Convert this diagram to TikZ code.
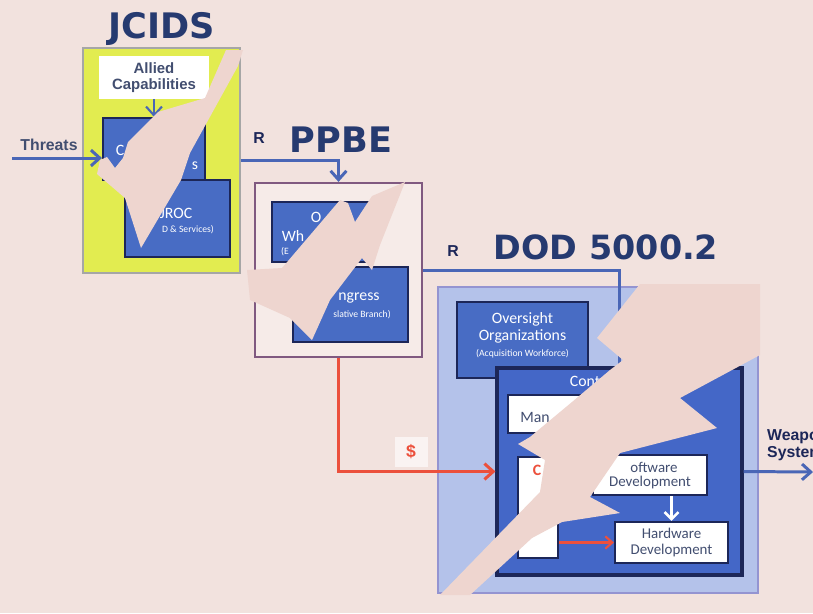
\documentclass[tikz,border=0pt]{standalone}
\usepackage{fontspec}
\setmainfont{Carlito}
\newfontfamily\headfont{DejaVu Sans}
\newfontfamily\lblfont{Liberation Sans}
\usepackage{tikz}
\usetikzlibrary{arrows.meta,positioning,calc}
\definecolor{bgpink}{RGB}{242,226,222}
\definecolor{tearpink}{RGB}{238,213,207}
\definecolor{titlenavy}{RGB}{38,58,112}
\definecolor{boxblue}{RGB}{72,108,196}
\definecolor{framenavy}{RGB}{28,38,88}
\definecolor{lightblue}{RGB}{180,194,234}
\definecolor{jyellow}{RGB}{226,236,80}
\definecolor{arrowblue}{RGB}{74,102,182}
\definecolor{moneyred}{RGB}{236,80,60}
\definecolor{slatetext}{RGB}{66,78,112}
\tikzset{
  titletext/.style={font=\headfont\bfseries\fontsize{20}{22}\selectfont, text=titlenavy},
  smalllabel/.style={font=\lblfont\bfseries\fontsize{9}{10}\selectfont, text=slatetext, align=center},
  yellowbox/.style={rectangle, draw=gray!70, line width=1pt, fill=jyellow,
    inner sep=0pt},
  stagebox/.style={rectangle, draw=gray!70!violet, line width=1.3pt, fill=white!30!bgpink,
    inner sep=0pt},
  dodbox/.style={rectangle, draw=gray!60!blue!60, line width=1.3pt, fill=lightblue,
    inner sep=0pt},
  bluebox/.style={rectangle, draw=framenavy, line width=1.2pt, fill=boxblue,
    inner sep=0pt},
  whitebox/.style={rectangle, draw=framenavy, line width=1.2pt, fill=white,
    inner sep=0pt, align=center, text=slatetext, font=\fontsize{8.5}{9.5}\selectfont},
  boxtext/.style={text=white, font=\fontsize{9}{10}\selectfont, inner sep=0pt},
  tinytext/.style={text=white, font=\fontsize{5.5}{6}\selectfont, inner sep=0pt},
  flowline/.style={arrowblue, line width=1.7pt},
  flowarrow/.style={flowline, -{Straight Barb[length=5pt,width=9pt]}},
  moneyarrow/.style={-{Straight Barb[length=5pt,width=9pt]}, moneyred, line width=1.7pt},
  tearpiece/.style={fill=tearpink, draw=none}
}

\begin{document}
\begin{tikzpicture}[x=0.02cm, y=-0.02cm]
  \useasboundingbox (0,0) rectangle (813,613);
  \fill[bgpink] (0,0) rectangle (813,613);

  % JCIDS
  \node[titletext] (jcidsT) at (162,29) {JCIDS};
  \node[yellowbox, minimum width=3.14cm, minimum height=4.5cm] (jcids) at (161.5,160.5) {};
  \node[fill=white, minimum width=2.2cm, minimum height=0.82cm, smalllabel,
        font=\lblfont\bfseries\fontsize{8.5}{9.5}\selectfont] (allied) at (154,77.5) {Allied\\Capabilities};
  \node[bluebox, minimum width=2.04cm, minimum height=1.24cm] (cocom) at (154,149) {};
  \node[bluebox, minimum width=2.1cm, minimum height=1.54cm] (jroc) at (177.5,218.5) {};
  \node[boxtext] at (120,150) {C};
  \node[boxtext] at (195,166) {s};
  \node[boxtext] at (176,213) {JROC};
  \node[tinytext] at (188,230) {D \& Services)};
  \coordinate (threatsIn) at (12,158);
  \node[smalllabel] at (49,145) {Threats};
  \draw[flowarrow] (threatsIn) -- (threatsIn -| cocom.west);
  \draw[flowarrow, line width=1.2pt] (allied.south) -- (cocom.north);

  % PPBE
  \node[titletext] (ppbeT) at (341,140) {PPBE};
  \node[smalllabel, text=framenavy] at (259,138) {R};
  \node[stagebox, minimum width=3.34cm, minimum height=3.48cm] (ppbe) at (338.5,270) {};
  \node[bluebox, minimum width=1.96cm, minimum height=1.2cm] (omb) at (321,232) {};
  \node[bluebox, minimum width=2.3cm, minimum height=1.5cm] (congress) at (350.5,304.5) {};
  \node[boxtext] at (316,217) {O};
  \node[boxtext] at (293,236) {Wh};
  \node[tinytext] at (285,252) {(E};
  \node[boxtext] at (359,298) {ngress};
  \node[tinytext] at (362,315) {slative Branch)};
  \draw[flowarrow] (jcids.east) -| (ppbe.north);

  % DOD 5000.2
  \node[titletext, font=\headfont\bfseries\fontsize{19}{21}\selectfont] (dodT) at (606,247) {DOD 5000.2};
  \node[smalllabel, text=framenavy] at (453,251) {R};
  \node[dodbox, minimum width=6.4cm, minimum height=6.12cm] (dod) at (598,440) {};
  \node[bluebox, minimum width=2.62cm, minimum height=1.52cm] (oversight) at (522.5,340) {};
  \node[align=center, text=white, font=\fontsize{9}{10}\selectfont] at (522.5,335)
        {Oversight\\Organizations\\[-1pt]{\fontsize{5.5}{6}\selectfont(Acquisition Workforce)}};
  \node[bluebox, line width=1.8pt, fill=boxblue!95!blue, minimum width=4.9cm, minimum height=4.14cm] (contractor) at (619.5,471.5) {};
  \draw[flowline] (ppbe.east) -| (contractor.north);
  \node[boxtext] at (585,381) {Cont};
  \node[whitebox, minimum width=1.84cm, minimum height=0.76cm] (mgmt) at (554,414) {};
  \node[text=slatetext, font=\fontsize{9}{10}\selectfont] at (535,417) {Man};
  \node[whitebox, minimum width=0.8cm, minimum height=2.02cm] (cost) at (538,507.5) {};
  \node[text=moneyred, font=\bfseries\fontsize{9}{10}\selectfont] at (537,470) {C};
  \node[whitebox, minimum width=2.28cm, minimum height=0.8cm] (software) at (650,475) {};
  \node[text=slatetext, font=\fontsize{8.5}{9.5}\selectfont] at (654,467) {oftware};
  \node[text=slatetext, font=\fontsize{8.5}{9.5}\selectfont] at (650,483) {Development};
  \node[whitebox, minimum width=2.26cm, minimum height=0.82cm] (hardware) at (671.5,542.5) {Hardware\\Development};
  \draw[-{Straight Barb[length=4pt,width=8pt]}, white, line width=1.5pt] (software.south -| hardware.north) -- (hardware.north);
  \draw[-{Straight Barb[length=4pt,width=7pt]}, moneyred, line width=1.2pt] (cost.east |- hardware.west) -- (hardware.west);

  % money and output
  \node[fill=white!60!bgpink, minimum width=0.66cm, minimum height=0.6cm,
        text=moneyred, font=\lblfont\bfseries\fontsize{10}{11}\selectfont] (dollar) at (411,452) {\$};
  \draw[moneyarrow] (ppbe.south) |- (contractor.west);
  \coordinate (wpnOut) at (813,472);
  \draw[flowarrow] (contractor.east) -- (wpnOut);
  \node[smalllabel, text=framenavy, anchor=west, align=left] at (761,445) {Weapon\\System};

  % torn pieces
  \fill[tearpiece] (226,50) -- (243,50) -- (238,66) -- (190,153) -- (181,180) -- (141,248)
    -- (125,198) -- (97,174) -- (100,160) -- (107,157) -- (115,168) -- (123,158) -- (128,142)
    -- (158,112) -- (205,98) -- cycle;
  \fill[tearpiece] (340,200) -- (282,268) -- (247,270) -- (250,300) -- (290,318) -- (312,340)
    -- (330,300) -- (362,258) -- (372,270) -- (380,245) -- (405,182) -- (372,196) -- (355,222)
    -- (348,203) -- cycle;
  \fill[tearpiece] (640,284) -- (597,338) -- (623,360) -- (610,370) -- (572,402) -- (530,437)
    -- (518,444) -- (545,460) -- (540,492) -- (440,595) -- (470,595) -- (532,538) -- (562,522)
    -- (620,513) -- (590,497) -- (620,453) -- (717,428) -- (680,398) -- (760,355) -- (760,284) -- cycle;
\end{tikzpicture}
\end{document}
